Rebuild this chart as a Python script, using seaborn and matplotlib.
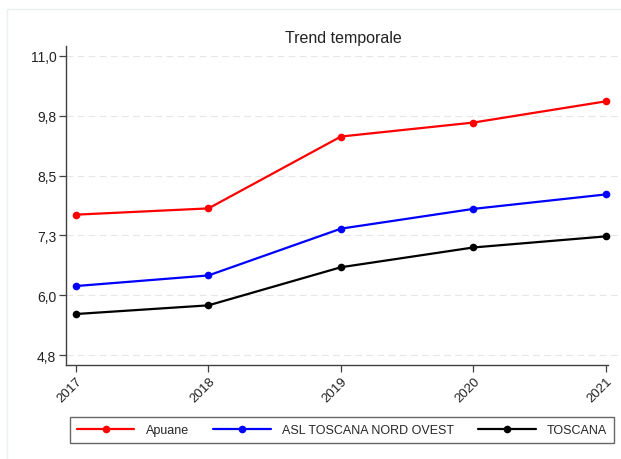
import numpy as np
import pandas as pd
import matplotlib
matplotlib.use("Agg")
import matplotlib.pyplot as plt
import seaborn as sns
from matplotlib.patches import Rectangle
from matplotlib.ticker import FuncFormatter

anni = [2017, 2018, 2019, 2020, 2021]
apuane = [7.71, 7.84, 9.33, 9.62, 10.06]
asl_nord_ovest = [6.23, 6.45, 7.42, 7.83, 8.13]
toscana = [5.65, 5.83, 6.62, 7.03, 7.26]
aree = ["Apuane", "ASL TOSCANA NORD OVEST", "TOSCANA"]
colori = ["#ff0000", "#0000ff", "#000000"]
y_ticks = np.linspace(4.8, 11.0, 6)

df = pd.DataFrame({
    "anno": anni * 3,
    "valore": apuane + asl_nord_ovest + toscana,
    "area": [a for a in aree for _ in anni],
})

sns.set_theme(style="white")
plt.rcParams["font.family"] = ["Liberation Sans", "DejaVu Sans"]

fig = plt.figure(figsize=(6.21, 4.60), dpi=100)
W, H = 621, 460
ax = fig.add_axes([66 / W, 1 - 366 / H, (620 - 66) / W, (366 - 47) / H])

sns.lineplot(data=df, x="anno", y="valore", hue="area", palette=colori,
             hue_order=aree, marker="o", markersize=5.5, markeredgewidth=0,
             linewidth=1.6, ax=ax, legend=True)

# limiti
ax.set_xlim(2016.925, 2021.106)
ax.set_ylim(4.593, 11.207)
ax.set_yticks(y_ticks)
ax.yaxis.set_major_formatter(FuncFormatter(lambda v, p: f"{v:.1f}".replace(".", ",")))
ax.set_xticks(anni)
ax.set_xticklabels([str(a) for a in anni], rotation=45, ha="right",
                   rotation_mode="anchor")

ax.grid(axis="y", linestyle=(0, (6, 4)), color="#e6e6e6", linewidth=0.8)
ax.set_axisbelow(True)
for s in ["top", "right"]:
    ax.spines[s].set_visible(False)
for s in ["left", "bottom"]:
    ax.spines[s].set_color("#404040")
    ax.spines[s].set_linewidth(1.0)
ax.spines["bottom"].set_bounds(2016.925, 2021.015)

ax.tick_params(axis="both", which="major", length=5, width=0.9, color="#404040",
               labelsize=9.5, labelcolor="#222222", bottom=True, left=True, pad=2)
ax.tick_params(axis="y", labelsize=10)
ax.set_xlabel("")
ax.set_ylabel("")
ax.set_title("Trend temporale", fontsize=11.5, color="#222222", pad=3)

handles, labels = ax.get_legend_handles_labels()
ax.get_legend().remove()
leg = fig.legend(handles, labels, loc="center", ncol=3, mode="expand",
                 bbox_to_anchor=(70 / W, 16 / H, 544 / W, 26 / H),
                 borderaxespad=0, fontsize=9, handlelength=4.6,
                 frameon=True, fancybox=False, edgecolor="#404040",
                 handletextpad=0.9, borderpad=0.55)
leg.get_frame().set_linewidth(1.0)

# cornice leggera del riquadro
fig.patches.append(Rectangle((7 / W, -0.05), 1.1, 0.05 + 450 / H, transform=fig.transFigure,
                             fill=False, edgecolor="#e8f0f0", linewidth=1.0))

fig.savefig("out.png", dpi=100)
